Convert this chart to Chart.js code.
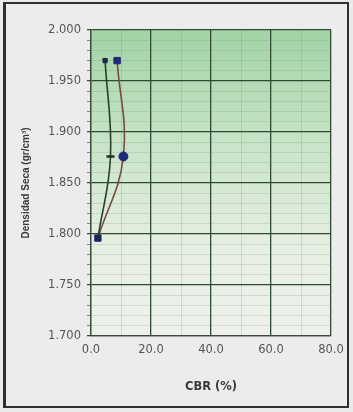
<!DOCTYPE html>
<html>
<head>
<meta charset="utf-8">
<script src="https://cdn.jsdelivr.net/npm/chart.js@4/dist/chart.umd.min.js"></script>
<style>
  html, body { margin: 0; padding: 0; background: #e9e9e9; }
  #wrap { position: relative; width: 353px; height: 412px; }
  #frame { position: absolute; left: 3px; top: 2px; width: 341px; height: 402px;
           border: 2px solid #2f2f2f; border-left-width: 3px; background: #ececec; }
  canvas { position: absolute; left: 0; top: 0; }
</style>
</head>
<body>
<div id="wrap">
  <div id="frame"></div>
  <canvas id="c" width="353" height="412"></canvas>
</div>
<script>
// CBR (%) against dry density (g/cm3) for two specimen series
const cbrSerieA = [4.7, 6.5, 2.3];
const densSerieA = [1.970, 1.876, 1.796];
const cbrSerieB = [8.7, 10.8, 2.3];
const densSerieB = [1.970, 1.876, 1.796];

const xMin = 0, xMax = 80, xStep = 10, xMajor = 20;
const yMin = 1.7, yMax = 2.0, yStep = 0.01, yMajor = 0.05;

const toPoints = (xs, ys) => xs.map((x, i) => ({ x: x, y: ys[i] }));

const isMajorY = v => Math.round(v * 1000) % Math.round(yMajor * 1000) === 0;
const isMajorX = v => Math.round(v) % xMajor === 0;

const tickFont = { family: 'DejaVu Sans', size: 11.5 };

const plotBackground = {
  id: 'plotBackground',
  beforeDraw(chart) {
    const { ctx, chartArea: a } = chart;
    const g = ctx.createLinearGradient(0, a.top, 0, a.bottom);
    g.addColorStop(0, '#a2d3a6');
    g.addColorStop(0.35, '#c6e3c5');
    g.addColorStop(0.7, '#e6efe2');
    g.addColorStop(1, '#eef1ec');
    ctx.save();
    ctx.fillStyle = g;
    ctx.fillRect(a.left, a.top, a.right - a.left, a.bottom - a.top);
    ctx.restore();
  }
};

new Chart(document.getElementById('c'), {
  type: 'scatter',
  data: {
    datasets: [
      {
        data: toPoints(cbrSerieA, densSerieA),
        showLine: true,
        tension: 0.4,
        borderColor: '#24432c',
        borderWidth: 1.6,
        pointStyle: ['rect', 'line', 'rect'],
        pointRadius: [3, 4, 3],
        pointBorderWidth: [1, 2.5, 1],
        pointBackgroundColor: '#1e2550',
        pointBorderColor: ['#1e2550', '#2b2a22', '#1e2550']
      },
      {
        data: toPoints(cbrSerieB, densSerieB),
        showLine: true,
        tension: 0.4,
        borderColor: '#7a4a3c',
        borderWidth: 1.6,
        pointStyle: ['rect', 'circle', 'rect'],
        pointRadius: [4.5, 4.5, 4.5],
        pointBackgroundColor: '#1f2a78',
        pointBorderColor: '#1f2a78',
        pointBorderWidth: 1
      }
    ]
  },
  options: {
    responsive: false,
    animation: false,
    layout: { padding: { left: 20, right: 22, top: 30, bottom: 18 } },
    plugins: { legend: { display: false }, tooltip: { enabled: false } },
    scales: {
      x: {
        type: 'linear',
        min: xMin, max: xMax,
        afterFit: s => { s.height = 58; },
        ticks: {
          stepSize: xStep,
          autoSkip: false,
          maxRotation: 0,
          padding: 4,
          color: '#555555',
          font: tickFont,
          callback: v => isMajorX(v) ? v.toFixed(1) : ''
        },
        grid: {
          color: c => isMajorX(c.tick.value) ? '#2e4a32' : 'rgba(120,140,120,0.25)',
          lineWidth: c => isMajorX(c.tick.value) ? 1.3 : 1,
          tickLength: 3,
          tickColor: 'rgba(0,0,0,0)'
        },
        border: { color: '#3c4a3c', width: 1.3 },
        title: {
          display: true,
          text: 'CBR (%)',
          color: '#3a3a3a',
          font: { family: 'DejaVu Sans', size: 11.5, weight: 'bold' },
          padding: { top: 0, bottom: 0 }
        }
      },
      y: {
        type: 'linear',
        min: yMin, max: yMax,
        afterFit: s => { s.width = 71; },
        ticks: {
          stepSize: yStep,
          autoSkip: false,
          padding: 6,
          color: '#555555',
          font: tickFont,
          callback: v => isMajorY(v) ? Number(v).toFixed(3) : ''
        },
        grid: {
          color: c => isMajorY(c.tick.value) ? '#2e4a32' : 'rgba(120,140,120,0.22)',
          lineWidth: c => isMajorY(c.tick.value) ? 1.3 : 1,
          tickLength: 4,
          tickColor: c => isMajorY(c.tick.value) ? '#3c4a3c' : '#7a8a7a'
        },
        border: { color: '#3c4a3c', width: 1.3 },
        title: {
          display: true,
          text: 'Densidad Seca (gr/cm³)',
          color: '#3a3a3a',
          font: { family: 'Liberation Sans', size: 10, weight: 'bold' },
          padding: { top: 0, bottom: 0 }
        }
      }
    }
  },
  plugins: [plotBackground]
});
</script>
</body>
</html>
